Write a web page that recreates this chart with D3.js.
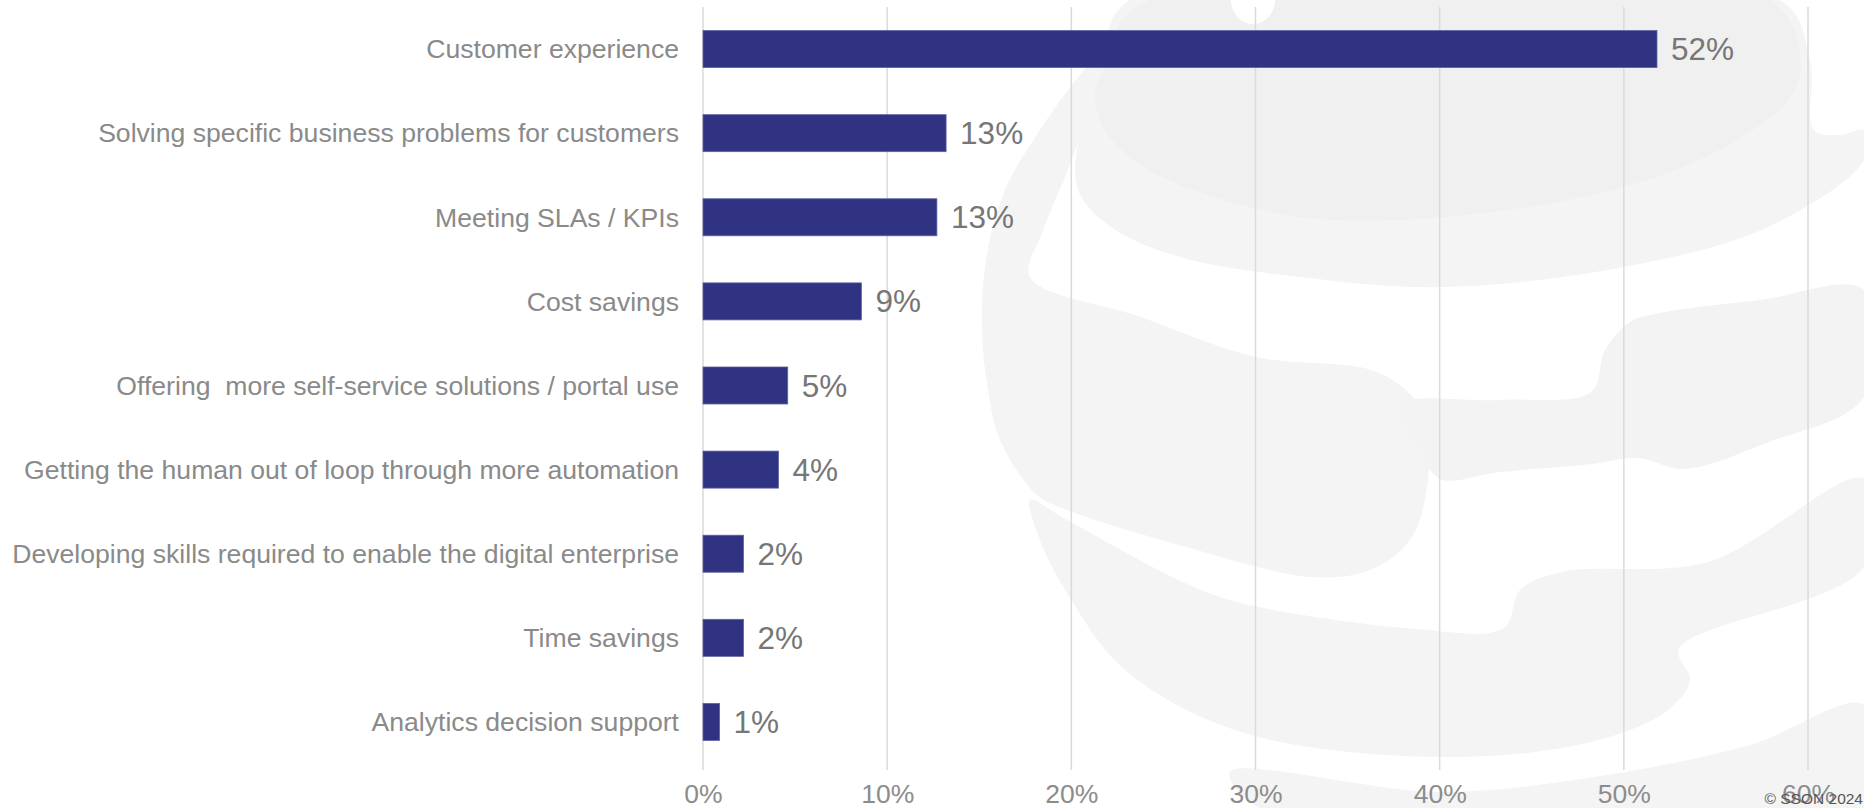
<!DOCTYPE html>
<html>
<head>
<meta charset="utf-8">
<script src="https://cdn.jsdelivr.net/npm/d3@7"></script>
<style>
  html, body { margin: 0; padding: 0; background: #ffffff; }
  svg { display: block; }
  text { font-family: "Liberation Sans", Arial, sans-serif; }
</style>
</head>
<body>
<svg id="chart" width="1864" height="808"></svg>
<script>
// ---- data ----
const categories = [
  "Customer experience",
  "Solving specific business problems for customers",
  "Meeting SLAs / KPIs",
  "Cost savings",
  "Offering  more self-service solutions / portal use",
  "Getting the human out of loop through more automation",
  "Developing skills required to enable the digital enterprise",
  "Time savings",
  "Analytics decision support"
];
const values = [0.518, 0.132, 0.127, 0.086, 0.046, 0.041, 0.022, 0.022, 0.009];
const tickValues = [0, 0.1, 0.2, 0.3, 0.4, 0.5, 0.6];
const copyrightText = "\u00A9 SSON 2024";

// ---- decorative watermark outlines (background logo, not data) ----
const wmBand = [ // upper band around dome
  [1130,0],[1780,0],[1810,60],[1814,130],[1840,135],[1864,130],[1864,160],[1768,227],[1624,267],
  [1444,287],[1300,277],[1180,257],[1111,227],[1078,190],[1080,130],[1100,60]
];
const wmDome = [
  [1150,0],[1770,0],[1800,55],[1792,95],[1732,143],[1624,187],[1444,217],[1300,217],
  [1180,185],[1134,160],[1103,127],[1095,90],[1110,40]
];
const wmLeft = [
  [1110,45],[1092,100],[1069,167],[1042,233],[1030,277],[1141,317],[1256,357],[1371,370],
  [1409,393],[1425,420],[1428,480],[1410,540],[1370,570],[1311,577],[1183,546],[1067,510],
  [1037,495],[1000,440],[988,390],[982,330],[986,260],[1005,190],[1040,130],[1080,75]
];
const wmMidRight = [
  [1400,405],[1500,400],[1591,392],[1605,350],[1630,322],[1660,313],[1760,300],[1864,290],
  [1864,397],[1766,443],[1684,469],[1638,458],[1591,464],[1500,472],[1440,479],[1420,450]
];
const wmLower = [
  [1030,500],[1067,520],[1183,582],[1241,603],[1416,629],[1504,628],[1520,590],[1562,572],
  [1708,562],[1864,479],[1864,567],[1679,649],[1690,680],[1667,711],[1591,742],[1440,757],
  [1241,732],[1125,670],[1067,593],[1040,540]
];
const wmBottom = [
  [1230,772],[1440,792],[1600,776],[1750,745],[1864,705],[1864,808],[1260,808]
];

const svg = d3.select("#chart");

// watermark
const wm = svg.append("g").attr("class", "watermark");
const closed = d3.line().curve(d3.curveCatmullRomClosed.alpha(0.5));
[[wmBand, "#f4f4f4"], [wmDome, "#f0f0f0"], [wmLeft, "#f4f4f4"], [wmMidRight, "#f3f3f3"],
 [wmLower, "#f4f4f4"], [wmBottom, "#f4f4f4"]].forEach(([pts, c]) => {
  wm.append("path").attr("d", closed(pts)).attr("fill", c);
});
wm.append("ellipse").attr("cx", 1253).attr("cy", 0).attr("rx", 22).attr("ry", 24).attr("fill", "#ffffff");

// scales
const x = d3.scaleLinear().domain([0, 0.6]).range([703, 1808]);
const y = d3.scaleBand().domain(categories).range([7, 764]).paddingInner(0.56).paddingOuter(0.28);

// gridlines
svg.append("g").selectAll("line").data(tickValues).join("line")
  .attr("x1", d => x(d)).attr("x2", d => x(d))
  .attr("y1", 7).attr("y2", 770)
  .attr("stroke", "#dadada").attr("stroke-width", 1.5);

// x axis tick labels
const xAxis = d3.axisBottom(x).tickValues(tickValues).tickFormat(d3.format(".0%")).tickSize(0).tickPadding(0);
const gx = svg.append("g").attr("transform", "translate(0,784)").call(xAxis);
gx.select(".domain").remove();
gx.selectAll("text")
  .attr("dy", null).attr("y", 19)
  .attr("font-size", 26.5).attr("fill", "#8c8c8c")
  .style("font-family", "'Liberation Sans', Arial, sans-serif");

// bars
svg.append("g").selectAll("rect").data(values).join("rect")
  .attr("x", x(0))
  .attr("y", (d, i) => y(categories[i]))
  .attr("width", d => x(d) - x(0))
  .attr("height", y.bandwidth())
  .attr("fill", "#2f3381")
  .attr("stroke", "#5d61a3").attr("stroke-width", 0.8);

// category labels
const yAxis = d3.axisLeft(y).tickSize(0).tickPadding(0);
const gy = svg.append("g").attr("transform", "translate(679,0)").call(yAxis);
gy.select(".domain").remove();
gy.selectAll("text")
  .attr("x", 0).attr("dy", "0.35em")
  .attr("font-size", 26.6).attr("fill", "#8a8a8a")
  .style("white-space", "pre")
  .style("font-family", "'Liberation Sans', Arial, sans-serif");

// value labels
svg.append("g").selectAll("text").data(values).join("text")
  .attr("x", d => x(d) + 14)
  .attr("y", (d, i) => y(categories[i]) + y.bandwidth() / 2)
  .attr("dy", "0.35em")
  .attr("font-size", 31.5).attr("fill", "#767676")
  .text(d => Math.round(d * 100) + "%");

// copyright
svg.append("text")
  .attr("x", 1863).attr("y", 804)
  .attr("text-anchor", "end")
  .attr("font-size", 15.5).attr("fill", "#555555")
  .text(copyrightText);
</script>
</body>
</html>
